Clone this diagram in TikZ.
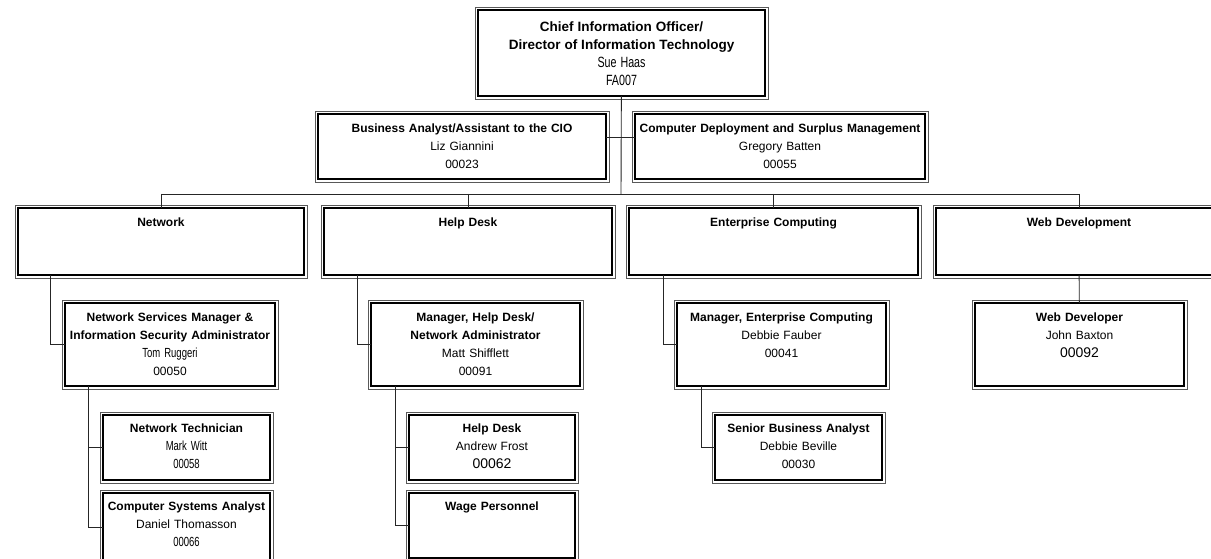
\documentclass[tikz,border=0pt]{standalone}
\usepackage{fontspec}
\setmainfont{Liberation Sans}
\newfontfamily\narrow[FakeStretch=0.72, Scale=1.1]{Liberation Sans}
\newcommand{\bignum}{\fontsize{14}{18}\selectfont}
\usetikzlibrary{calc}

\begin{document}
\begin{tikzpicture}[x=1pt, y=-1pt,
    orgbox/.style n args={3}{draw, line width=2pt, anchor=north west, inner sep=0pt, outer sep=0pt,
        minimum width=#1, minimum height=#2, label={[boxtext]north:{#3}}},
    boxtext/.style={anchor=north, align=center, text width=300pt, inner sep=0pt, yshift=-10pt,
        font=\fontsize{12}{18}\selectfont},
    frame/.style={draw=black!65, line width=0.8pt},
    link/.style={draw=black!85, line width=0.9pt}]

    \fill[white] (0,0) rectangle (1211,559);
    \useasboundingbox (0,0) rectangle (1211,559);

    % top level
    \begin{scope}[boxtext/.append style={yshift=-2pt}]
    \node[orgbox={287pt}{86pt}{\fontsize{13.5}{18}\selectfont\textbf{Chief Information Officer/}\\ \textbf{Director of Information Technology}\\ {\narrow Sue Haas}\\ {\narrow FA007}}] (cio) at (478,10) {};
    \end{scope}
    \node[orgbox={288pt}{65pt}{\textbf{Business Analyst/Assistant to the CIO}\\ Liz Giannini\\ 00023}] (ba) at (318,114) {};
    \node[orgbox={290pt}{65pt}{\textbf{Computer Deployment and Surplus Management}\\ Gregory Batten\\ 00055}] (cd) at (635,114) {};

    % departments
    \node[orgbox={286pt}{67pt}{\textbf{Network}}] (net) at (18,208) {};
    \node[orgbox={288pt}{67pt}{\textbf{Help Desk}}] (hd) at (324,208) {};
    \node[orgbox={289pt}{67pt}{\textbf{Enterprise Computing}}] (ec) at (629,208) {};
    \node[orgbox={286pt}{67pt}{\textbf{Web Development}}] (wd) at (936,208) {};

    % managers
    \node[orgbox={210pt}{83pt}{\textbf{Network Services Manager \&}\\ \textbf{Information Security Administrator}\\ {\narrow Tom Ruggeri}\\ 00050}] (nsm) at (65,303) {};
    \node[orgbox={209pt}{83pt}{\textbf{Manager, Help Desk/}\\ \textbf{Network Administrator}\\ Matt Shifflett\\ 00091}] (hdm) at (371,303) {};
    \node[orgbox={209pt}{83pt}{\textbf{Manager, Enterprise Computing}\\ Debbie Fauber\\ 00041}] (ecm) at (677,303) {};
    \node[orgbox={209pt}{83pt}{\textbf{Web Developer}\\ John Baxton\\ {\bignum 00092}}] (wdv) at (975,303) {};

    % staff
    \begin{scope}[boxtext/.append style={yshift=1.5pt}]
    \node[orgbox={167pt}{65pt}{\textbf{Network Technician}\\ {\narrow Mark Witt}\\ {\narrow 00058}}] (ntech) at (103,415) {};
    \node[orgbox={167pt}{68pt}{\textbf{Computer Systems Analyst}\\ Daniel Thomasson\\ {\narrow 00066}}] (csa) at (103,493) {};
    \node[orgbox={166pt}{65pt}{\textbf{Help Desk}\\ Andrew Frost\\ {\bignum 00062}}] (hdesk) at (409,415) {};
    \node[orgbox={166pt}{65pt}{\textbf{Wage Personnel}}] (wage) at (409,493) {};
    \node[orgbox={167pt}{65pt}{\textbf{Senior Business Analyst}\\ Debbie Beville\\ 00030}] (sba) at (715,415) {};
    \end{scope}

    % thin outer frames
    \foreach \b in {cio,ba,cd,net,hd,ec,wd,nsm,hdm,ecm,wdv,ntech,csa,hdesk,wage,sba}
        \draw[frame] ([shift={(-3pt,3pt)}]\b.north west) rectangle ([shift={(3pt,-3pt)}]\b.south east);

    % connectors
    \coordinate (bus) at (621,194);
    \draw[link] (cio) -- (bus);
    \draw[link] ([yshift=9.5pt]ba.east) -- ([yshift=9.5pt]cd.west);
    \draw[link] (net.north |- bus) -- (wd.north |- bus);
    \foreach \d in {net,hd,ec,wd}
        \draw[link] (\d.north |- bus) -- (\d);

    \draw[link] ([xshift=32pt]net.south west) |- (nsm);
    \draw[link] ([xshift=33pt]hd.south west) |- (hdm);
    \draw[link] ([xshift=34pt]ec.south west) |- (ecm);
    \draw[link] (wd) -- (wdv);

    \draw[link] ([xshift=23pt]nsm.south west) |- (ntech);
    \draw[link] ([xshift=23pt]nsm.south west) |- (csa);
    \draw[link] ([xshift=24pt]hdm.south west) |- (hdesk);
    \draw[link] ([xshift=24pt]hdm.south west) |- (wage);
    \draw[link] ([xshift=24pt]ecm.south west) |- (sba);
\end{tikzpicture}
\end{document}
